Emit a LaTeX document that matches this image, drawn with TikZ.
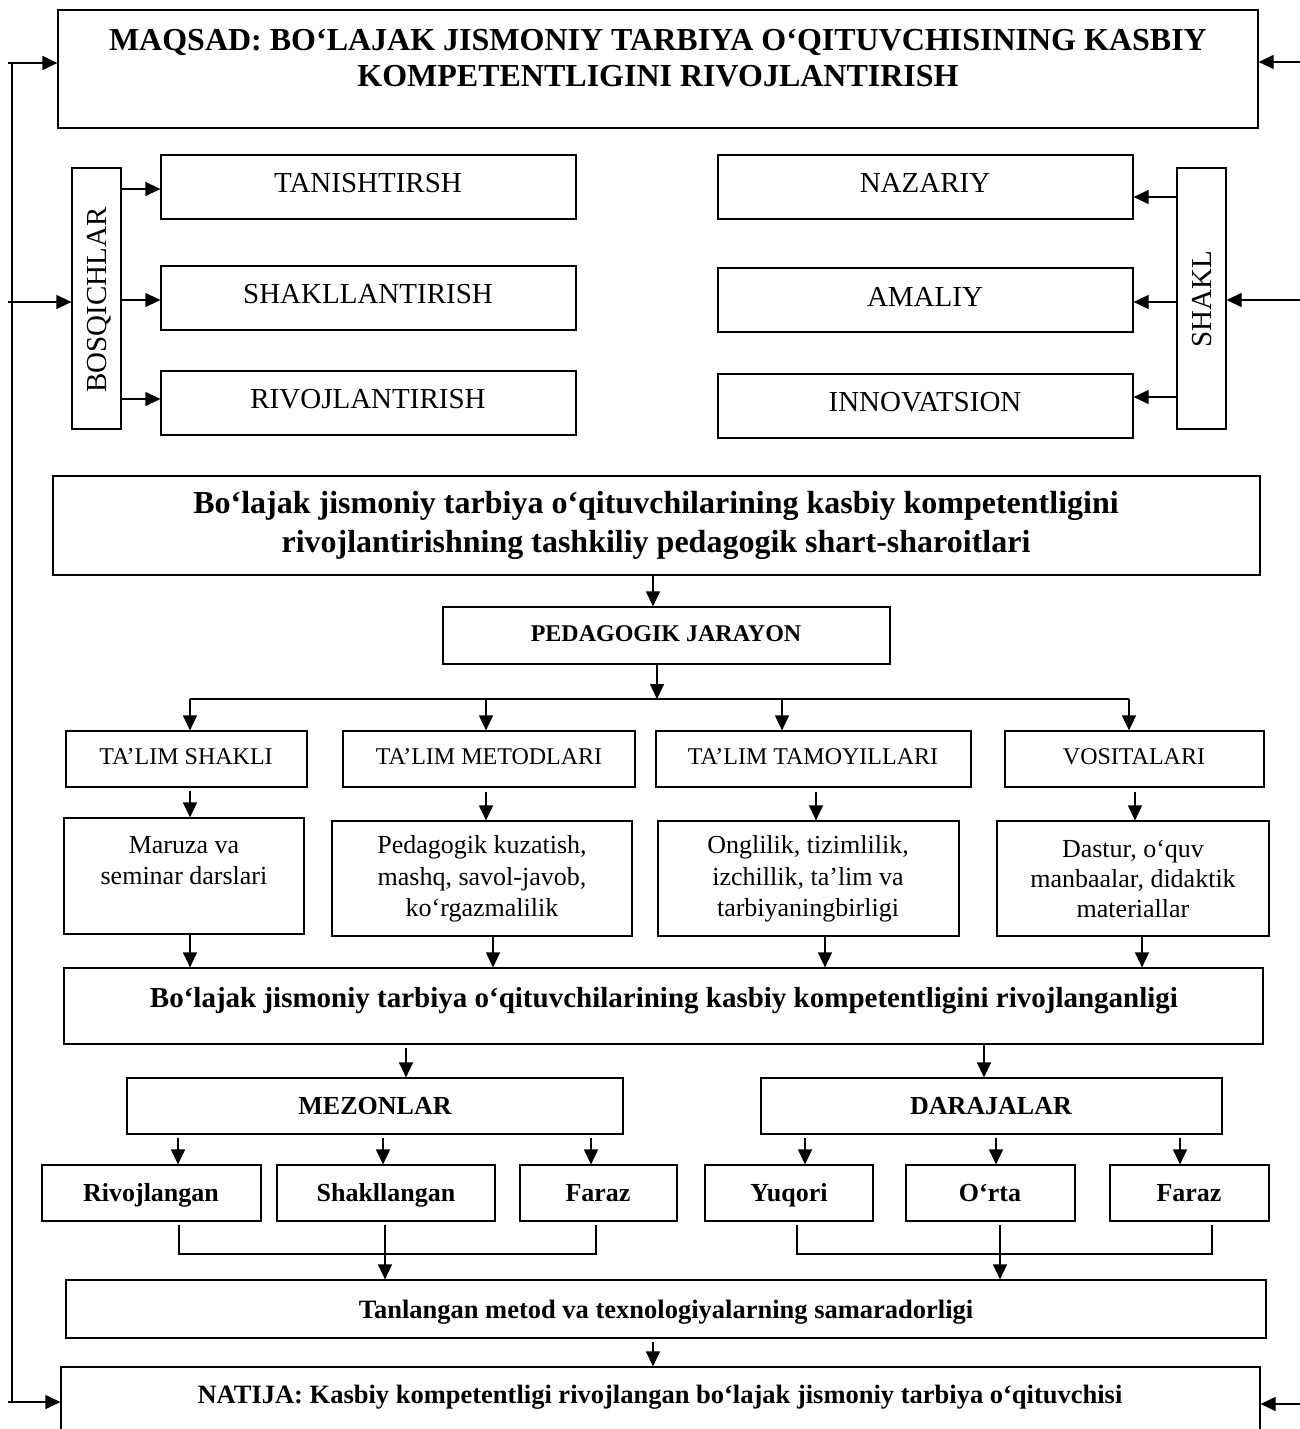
\documentclass[tikz,border=0pt]{standalone}
\usepackage{fontspec}
\setmainfont{Liberation Serif}
\usetikzlibrary{arrows.meta}
\newcommand\fs[2]{\fontsize{#1}{#2}\selectfont}
\newcommand\mybox[5]{\node[box, minimum width={#4-#2}, minimum height={#5-#3}] (#1) at ({(#2+#4)/2},{(#3+#5)/2}) {};}
\tikzset{
  box/.style={draw, line width=1.2pt, rectangle, inner sep=0pt},
  ln/.style={line width=1.2pt},
  arr/.style={line width=1.2pt, -{Triangle[length=15pt,width=14pt]}},
  txm/.style={inner sep=0pt, align=center},
  tx/.style={inner sep=0pt, text height=#1, text depth=0pt},
}
\begin{document}
\begin{tikzpicture}[x=1pt,y=-1pt]
\useasboundingbox (0,0) rectangle (1300,1429);
% boxes
\mybox{title}{58}{10}{1258}{128}
\mybox{bosq}{72}{168}{121}{429}
\mybox{tan}{161}{155}{576}{219}
\mybox{shak}{161}{266}{576}{330}
\mybox{rivo}{161}{371}{576}{435}
\mybox{naz}{718}{155}{1133}{219}
\mybox{ama}{718}{268}{1133}{332}
\mybox{inn}{718}{374}{1133}{438}
\mybox{shakl}{1177}{168}{1226}{429}
\mybox{cond}{53}{476}{1260}{575}
\mybox{ped}{443}{607}{890}{664}
\mybox{ta}{66}{731}{307}{787}
\mybox{tb}{343}{731}{635}{787}
\mybox{tc}{656}{731}{971}{787}
\mybox{td}{1005}{731}{1264}{787}
\mybox{ca}{64}{818}{304}{934}
\mybox{cb}{332}{821}{632}{936}
\mybox{cc}{658}{821}{959}{936}
\mybox{cd}{997}{821}{1269}{936}
\mybox{res}{64}{968}{1263}{1044}
\mybox{mez}{127}{1078}{623}{1134}
\mybox{dar}{761}{1078}{1222}{1134}
\mybox{ra}{42}{1165}{261}{1221}
\mybox{rb}{277}{1165}{495}{1221}
\mybox{rc}{520}{1165}{677}{1221}
\mybox{rd}{705}{1165}{873}{1221}
\mybox{re}{906}{1165}{1075}{1221}
\mybox{rf}{1110}{1165}{1269}{1221}
\mybox{eff}{66}{1280}{1266}{1338}
\mybox{nat}{61}{1367}{1260}{1470}
% texts
\node[txm, font=\fs{32}{36}\bfseries] (title-t) at (658,58) {MAQSAD: BO‘LAJAK JISMONIY TARBIYA O‘QITUVCHISINING KASBIY\\KOMPETENTLIGINI RIVOJLANTIRISH};
\node[tx=19.1pt, font=\fs{29}{33}, rotate=90] (bosq-t) at (97,300) {BOSQICHLAR};
\node[tx=19.1pt, font=\fs{29}{33}] (tan-t) at (368,183) {TANISHTIRSH};
\node[tx=19.1pt, font=\fs{29}{33}] (shak-t) at (368,294) {SHAKLLANTIRISH};
\node[tx=19.1pt, font=\fs{29}{33}] (rivo-t) at (368,399) {RIVOJLANTIRISH};
\node[tx=19.1pt, font=\fs{29}{33}] (naz-t) at (925,183) {NAZARIY};
\node[tx=19.1pt, font=\fs{29}{33}] (ama-t) at (925,297) {AMALIY};
\node[tx=19.1pt, font=\fs{29}{33}] (inn-t) at (925,402) {INNOVATSION};
\node[tx=19.1pt, font=\fs{29}{33}, rotate=90] (shakl-t) at (1202,299) {SHAKL};
\node[txm, font=\fs{32}{39}\bfseries] (cond-t) at (656,525) {Bo‘lajak jismoniy tarbiya o‘qituvchilarining kasbiy kompetentligini\\rivojlantirishning tashkiliy pedagogik shart-sharoitlari};
\node[tx=15.8pt, font=\fs{24}{28}\bfseries] (ped-t) at (666,634) {PEDAGOGIK JARAYON};
\node[tx=15.8pt, font=\fs{24}{28}] (ta-t) at (186,757) {TA’LIM SHAKLI};
\node[tx=15.8pt, font=\fs{24}{28}] (tb-t) at (489,757) {TA’LIM METODLARI};
\node[tx=15.8pt, font=\fs{24}{28}] (tc-t) at (813,757) {TA’LIM TAMOYILLARI};
\node[tx=15.8pt, font=\fs{24}{28}] (td-t) at (1134,757) {VOSITALARI};
\node[txm, font=\fs{26}{31}] (ca-t) at (184,861) {Maruza va\\seminar darslari};
\node[txm, font=\fs{26}{31.5}] (cb-t) at (482,879) {Pedagogik kuzatish,\\mashq, savol-javob,\\ko‘rgazmalilik};
\node[txm, font=\fs{26}{31.5}] (cc-t) at (808,879) {Onglilik, tizimlilik,\\izchillik, ta’lim va\\tarbiyaningbirligi};
\node[txm, font=\fs{26}{30}] (cd-t) at (1133,879) {Dastur, o‘quv\\manbaalar, didaktik\\materiallar};
\node[tx=19.1pt, font=\fs{29}{33}\bfseries] (res-t) at (664,998) {Bo‘lajak jismoniy tarbiya o‘qituvchilarining kasbiy kompetentligini rivojlanganligi};
\node[tx=17.2pt, font=\fs{26}{30}\bfseries] (mez-t) at (375,1106) {MEZONLAR};
\node[tx=17.2pt, font=\fs{26}{30}\bfseries] (dar-t) at (991,1106) {DARAJALAR};
\node[tx=17.2pt, font=\fs{26}{30}\bfseries] (ra-t) at (151,1193) {Rivojlangan};
\node[tx=17.2pt, font=\fs{26}{30}\bfseries] (rb-t) at (386,1193) {Shakllangan};
\node[tx=17.2pt, font=\fs{26}{30}\bfseries] (rc-t) at (598,1193) {Faraz};
\node[tx=17.2pt, font=\fs{26}{30}\bfseries] (rd-t) at (789,1193) {Yuqori};
\node[tx=17.2pt, font=\fs{26}{30}\bfseries] (re-t) at (990,1193) {O‘rta};
\node[tx=17.2pt, font=\fs{26}{30}\bfseries] (rf-t) at (1189,1193) {Faraz};
\node[tx=17.5pt, font=\fs{26.5}{30}\bfseries] (eff-t) at (666,1310) {Tanlangan metod va texnologiyalarning samaradorligi};
\node[tx=17.5pt, font=\fs{26.5}{30}\bfseries] (nat-t) at (660,1395) {NATIJA: Kasbiy kompetentligi rivojlangan bo‘lajak jismoniy tarbiya o‘qituvchisi};
% feedback lines
\coordinate (la) at (8,63);
\coordinate (lm) at (8,302);
\coordinate (lb) at (8,1402);
\coordinate (lt) at (12,63);
\coordinate (lbot) at (12,1402);
\draw[ln] (lt) -- (lbot);
\draw[arr] (la) -- (title.west |- la);
\draw[arr] (lm) -- (bosq.west |- lm);
\draw[arr] (lb) -- (nat.west |- lb);
\coordinate (ra1) at (1300,62);
\coordinate (ra2) at (1300,300);
\coordinate (ra3) at (1300,1404);
\draw[arr] (ra1) -- (title.east |- ra1);
\draw[arr] (ra2) -- (shakl.east |- ra2);
\draw[arr] (ra3) -- (nat.east |- ra3);
% bosqichlar
\coordinate (q1) at (0,189);
\coordinate (q2) at (0,300);
\coordinate (q3) at (0,399);
\draw[arr] (bosq.east |- q1) -- (tan.west |- q1);
\draw[arr] (bosq.east |- q2) -- (shak.west |- q2);
\draw[arr] (bosq.east |- q3) -- (rivo.west |- q3);
% shakl
\coordinate (s1) at (0,197);
\coordinate (s2) at (0,302);
\coordinate (s3) at (0,397);
\draw[arr] (shakl.west |- s1) -- (naz.east |- s1);
\draw[arr] (shakl.west |- s2) -- (ama.east |- s2);
\draw[arr] (shakl.west |- s3) -- (inn.east |- s3);
% middle chain
\coordinate (m1) at (653,0);
\draw[arr] (cond.south -| m1) -- (ped.north -| m1);
\coordinate (bus) at (657,699);
\draw[arr] (ped.south -| bus) -- (bus);
\coordinate (busl) at (190,699);
\coordinate (busr) at (1129,699);
\draw[ln] (busl) -- (busr);
\coordinate (xa) at (190,699);
\coordinate (xb) at (486,699);
\coordinate (xc) at (782,699);
\coordinate (xd) at (1129,699);
\draw[arr] (xa) -- (ta.north -| xa);
\draw[arr] (xb) -- (tb.north -| xb);
\draw[arr] (xc) -- (tc.north -| xc);
\draw[arr] (xd) -- (td.north -| xd);
\coordinate (ya) at (190,0);
\coordinate (yb) at (486,0);
\coordinate (yc) at (816,0);
\coordinate (yd) at (1135,0);
\draw[arr] ([yshift=-3pt]ta.south -| ya) -- (ca.north -| ya);
\draw[arr] ([yshift=-4pt]tb.south -| yb) -- (cb.north -| yb);
\draw[arr] ([yshift=-4pt]tc.south -| yc) -- (cc.north -| yc);
\draw[arr] ([yshift=-4pt]td.south -| yd) -- (cd.north -| yd);
\coordinate (za) at (190,0);
\coordinate (zb) at (493,0);
\coordinate (zc) at (825,0);
\coordinate (zd) at (1142,0);
\draw[arr] (ca.south -| za) -- (res.north -| za);
\draw[arr] (cb.south -| zb) -- (res.north -| zb);
\draw[arr] (cc.south -| zc) -- (res.north -| zc);
\draw[arr] (cd.south -| zd) -- (res.north -| zd);
\coordinate (w1) at (406,0);
\coordinate (w2) at (984,0);
\draw[arr] ([yshift=-3pt]res.south -| w1) -- (mez.north -| w1);
\draw[arr] (res.south -| w2) -- (dar.north -| w2);
% criteria and levels
\coordinate (v1) at (178,0);
\coordinate (v2) at (383,0);
\coordinate (v3) at (591,0);
\coordinate (v4) at (805,0);
\coordinate (v5) at (996,0);
\coordinate (v6) at (1180,0);
\draw[arr] ([yshift=-3pt]mez.south -| v1) -- (ra.north -| v1);
\draw[arr] ([yshift=-3pt]mez.south -| v2) -- (rb.north -| v2);
\draw[arr] ([yshift=-3pt]mez.south -| v3) -- (rc.north -| v3);
\draw[arr] ([yshift=-3pt]dar.south -| v4) -- (rd.north -| v4);
\draw[arr] ([yshift=-3pt]dar.south -| v5) -- (re.north -| v5);
\draw[arr] ([yshift=-3pt]dar.south -| v6) -- (rf.north -| v6);
% brackets
\coordinate (b1) at (179,1254);
\coordinate (b2) at (596,1254);
\coordinate (b3) at (797,1254);
\coordinate (b4) at (1212,1254);
\draw[ln] ([yshift=-3pt]ra.south -| b1) -- (b1) -- (b2) -- ([yshift=-3pt]rc.south -| b2);
\draw[ln] ([yshift=-3pt]rd.south -| b3) -- (b3) -- (b4) -- ([yshift=-3pt]rf.south -| b4);
\coordinate (u1) at (385,0);
\coordinate (u2) at (1000,0);
\draw[arr] ([yshift=-3pt]rb.south -| u1) -- (eff.north -| u1);
\draw[arr] ([yshift=-3pt]re.south -| u2) -- (eff.north -| u2);
\coordinate (u3) at (653,0);
\draw[arr] ([yshift=-3pt]eff.south -| u3) -- (nat.north -| u3);
\end{tikzpicture}
\end{document}
